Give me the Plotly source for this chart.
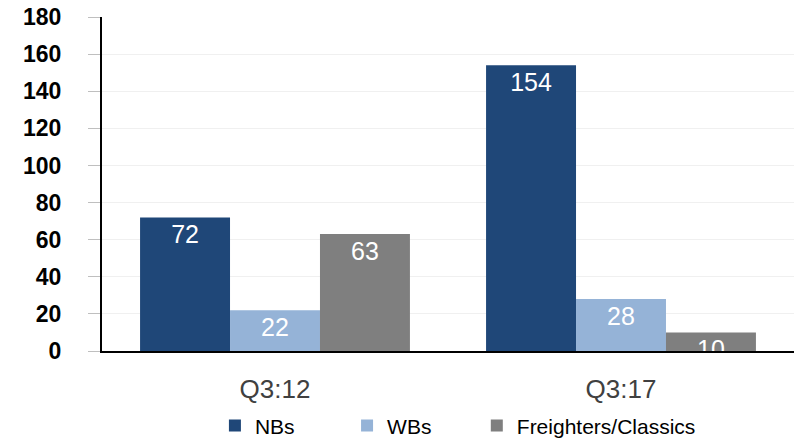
import plotly.graph_objects as go

categories = ["Q3:12", "Q3:17"]
nbs = [72, 154]
wbs = [22, 28]
freighters = [63, 10]

FONT = "Liberation Sans, Arial, sans-serif"

# name, values, colour, legend id, legend x (container fraction)
series = [
    ("NBs", nbs, "#1F4778", "legend", 0.270),
    ("WBs", wbs, "#95B3D7", "legend2", 0.436),
    ("Freighters/Classics", freighters, "#7F7F7F", "legend3", 0.599),
]

fig = go.Figure()
for name, vals, color, leg, _ in series:
    fig.add_trace(go.Bar(
        name=name,
        x=categories,
        y=vals,
        legend=leg,
        marker=dict(color=color, line=dict(width=0)),
        text=[str(v) for v in vals],
        textposition="inside",
        insidetextanchor="end",
        constraintext="none",
        textangle=0,
        textfont=dict(color="white", size=25, family=FONT),
    ))

legend_style = dict(
    orientation="h",
    xref="container", yref="container",
    xanchor="left", yanchor="middle",
    y=0.03,
    font=dict(size=21, color="#000000", family=FONT),
    bgcolor="rgba(0,0,0,0)",
)
layout_legends = {}
for name, vals, color, leg, lx in series:
    layout_legends[leg] = dict(legend_style, x=lx)

fig.update_layout(
    width=796,
    height=439,
    margin=dict(l=102, r=2, t=17, b=88, autoexpand=False),
    paper_bgcolor="white",
    plot_bgcolor="white",
    barmode="group",
    bargap=0.22,
    bargroupgap=0,
    font=dict(family=FONT, color="#000000"),
    showlegend=True,
    xaxis=dict(
        showline=True,
        linecolor="#000000",
        linewidth=2,
        ticks="",
        tickfont=dict(size=26, color="#404040", family=FONT),
        ticklabelstandoff=14,
    ),
    yaxis=dict(
        range=[0, 180],
        dtick=20,
        showgrid=True,
        gridcolor="#F0F0F0",
        gridwidth=1,
        showline=True,
        linecolor="#000000",
        linewidth=2,
        ticks="outside",
        ticklen=12,
        tickcolor="#BFBFBF",
        tickfont=dict(size=23, color="#000000", family=FONT, weight="bold"),
        ticklabelstandoff=22,
        zeroline=False,
    ),
    **layout_legends,
)

fig.write_html("out.html")
